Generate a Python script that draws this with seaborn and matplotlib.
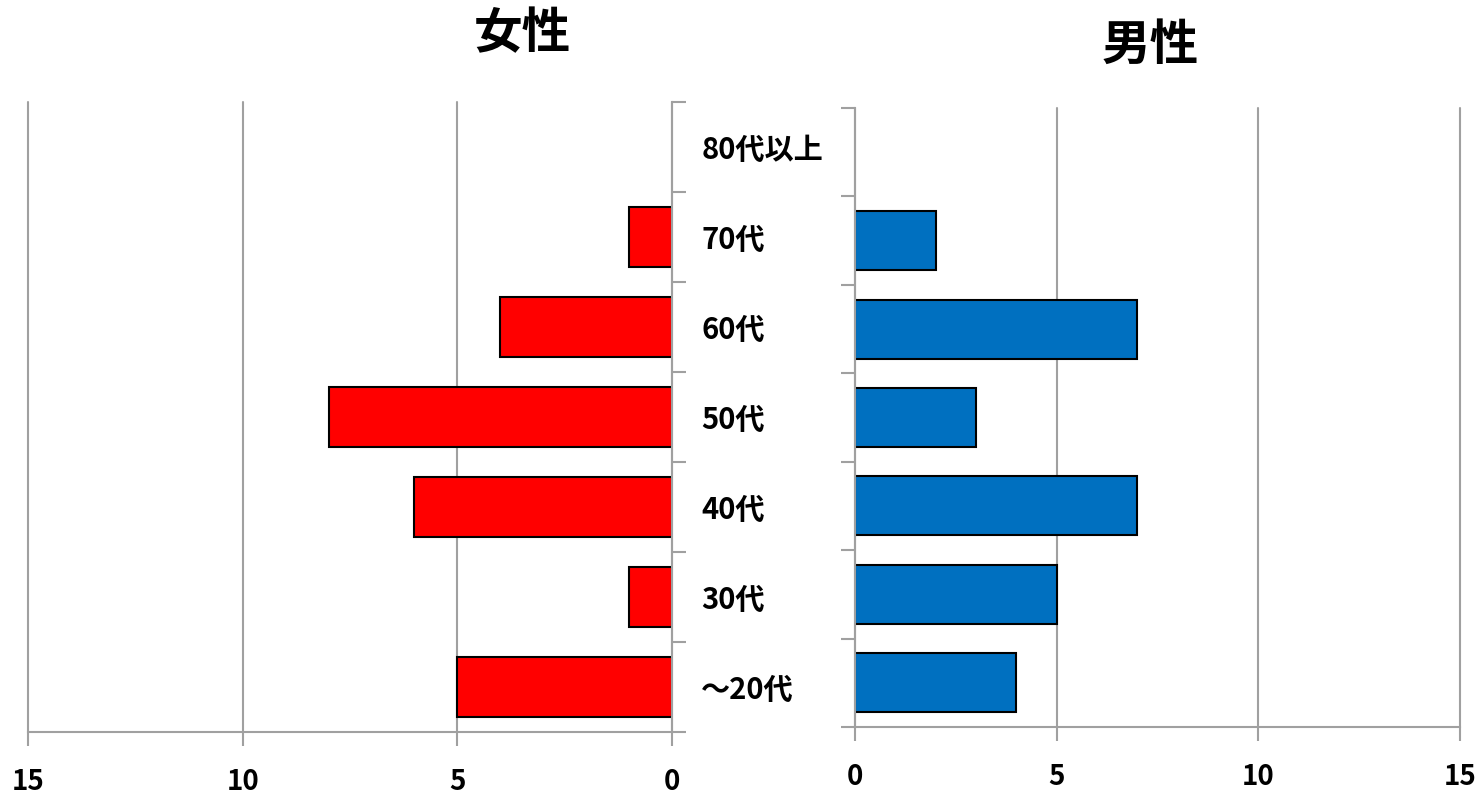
import matplotlib
matplotlib.use("Agg")
import matplotlib.pyplot as plt
import numpy as np
import pandas as pd
import seaborn as sns
from matplotlib.ticker import FixedLocator

# Age groups from oldest (top) to youngest (bottom)
age_groups = ["80代以上", "70代", "60代", "50代", "40代", "30代", "～20代"]
female = [0, 1, 4, 8, 6, 1, 5]
male = [0, 2, 7, 3, 7, 5, 4]
x_ticks = [0, 5, 10, 15]
panel_titles = ["女性", "男性"]

sns.set_theme(style="white")
plt.rcParams["font.family"] = ["Noto Sans CJK JP", "DejaVu Sans"]
plt.rcParams["font.weight"] = "bold"

W, H = 1483, 795
fig = plt.figure(figsize=(W / 100, H / 100), dpi=100)


def rect(x0, x1, ytop, ybot):
    return [x0 / W, 1 - ybot / H, (x1 - x0) / W, (ybot - ytop) / H]


ax_f = fig.add_axes(rect(28, 672, 102, 732))
ax_m = fig.add_axes(rect(855, 1460, 108, 727))

df = pd.DataFrame({"age": age_groups, "female": female, "male": male})

GRAY = "#A0A0A0"

sns.barplot(data=df, y="age", x="female", order=age_groups, color="#FF0000",
            saturation=1, width=0.667, edgecolor="black", linewidth=1.5, ax=ax_f)
sns.barplot(data=df, y="age", x="male", order=age_groups, color="#0070C0",
            saturation=1, width=0.667, edgecolor="black", linewidth=1.5, ax=ax_m)

for ax in (ax_f, ax_m):
    # empty categories: no outline either
    for p in ax.patches:
        if p.get_width() == 0:
            p.set_linewidth(0)
    ax.set_xlabel("")
    ax.set_ylabel("")
    ax.set_xticks(x_ticks)
    ax.set_xticklabels([str(t) for t in x_ticks], fontsize=20, fontweight="bold")
    ax.xaxis.grid(True, color=GRAY, linewidth=1.5)
    ax.yaxis.grid(False)
    ax.set_axisbelow(True)
    for gl in ax.get_xgridlines():
        gl.set_clip_on(False)
    ax.tick_params(axis="x", bottom=True, length=10, width=1.5, color=GRAY,
                   pad=16, labelcolor="black")
    ax.set_yticks(range(len(age_groups)))
    ax.yaxis.set_minor_locator(FixedLocator(np.arange(-0.5, len(age_groups), 1)))
    ax.spines["top"].set_visible(False)
    for s in ax.spines.values():
        s.set_color(GRAY)
        s.set_linewidth(1.5)

ax_f.set_xlim(15, 0)
ax_m.set_xlim(0, 15)

# Female panel: axis line on the right, carrying the age labels
ax_f.spines["left"].set_visible(False)
ax_f.yaxis.tick_right()
ax_f.set_yticklabels(age_groups, fontsize=21, fontweight="bold")
ax_f.tick_params(axis="y", which="major", length=0, pad=21, labelcolor="black")
ax_f.tick_params(axis="y", which="minor", right=True, left=False, length=10,
                 width=1.5, color=GRAY)

# Male panel: axis line on the left, no labels
ax_m.spines["right"].set_visible(False)
ax_m.set_yticklabels([])
ax_m.tick_params(axis="y", which="major", length=0)
ax_m.tick_params(axis="y", which="minor", left=True, right=False, length=10,
                 width=1.5, color=GRAY)

fig.text(522 / W, 1 - 34 / H, panel_titles[0], fontsize=35, fontweight="bold",
         ha="center", va="center", color="black")
fig.text(1150 / W, 1 - 45 / H, panel_titles[1], fontsize=35, fontweight="bold",
         ha="center", va="center", color="black")

fig.savefig("out.png", dpi=100, facecolor="white")
